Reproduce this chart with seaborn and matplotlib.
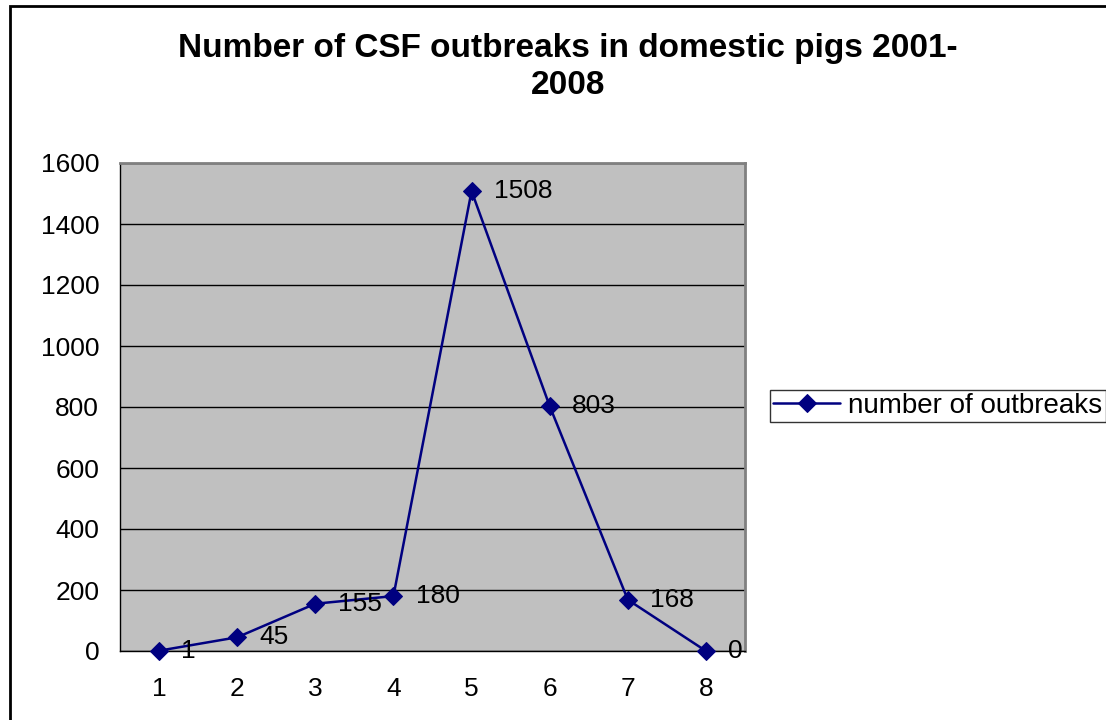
import matplotlib
matplotlib.use("Agg")
import matplotlib.pyplot as plt
import matplotlib.patches as mpatches
import seaborn as sns
import pandas as pd
import numpy as np

categories = [1, 2, 3, 4, 5, 6, 7, 8]
outbreaks = [1, 45, 155, 180, 1508, 803, 168, 0]
y_ticks = [0, 200, 400, 600, 800, 1000, 1200, 1400, 1600]
title_lines = ["Number of CSF outbreaks in domestic pigs 2001-", "2008"]
series_name = "number of outbreaks"

sns.set_theme(style="white")
plt.rcParams['font.family'] = ['Liberation Sans', 'DejaVu Sans']
plt.rcParams['text.color'] = 'black'
plt.rcParams['xtick.color'] = 'black'
plt.rcParams['ytick.color'] = 'black'
plt.rcParams['axes.labelcolor'] = 'black'

FS = 19

df = pd.DataFrame({"category": categories, "value": outbreaks})

fig = plt.figure(figsize=(11.06, 7.2), dpi=100)
ax = fig.add_axes([120/1106, 1-651/720, (745-120)/1106, (651-163)/720])
ax.set_facecolor("#C0C0C0")

line_color = "#000080"
sns.lineplot(data=df, x="category", y="value", ax=ax, color=line_color,
             marker="D", markersize=9, markeredgecolor=line_color,
             linewidth=1.8, label=series_name, zorder=5, clip_on=False)

ax.set_xlim(0.5, 8.5)
ax.set_ylim(0, 1600)
ax.set_yticks(y_ticks)
ax.set_yticklabels([str(t) for t in y_ticks], fontsize=FS)
ax.yaxis.grid(True, color="black", linewidth=1)
ax.set_axisbelow(True)

ax.set_xticks(categories)
ax.set_xticklabels([str(c) for c in categories], fontsize=FS)
ax.set_xticks(np.arange(0.5, 9.0, 1.0), minor=True)
ax.tick_params(axis="x", which="major", length=0, pad=19, labelcolor="black")
ax.tick_params(axis="x", which="minor", length=7, width=1, color="black", direction="out")
ax.tick_params(axis="y", which="major", length=7, width=1, color="black", direction="out",
               pad=8, labelcolor="black")
ax.set_xlabel("")
ax.set_ylabel("")

for s in ["left", "bottom"]:
    ax.spines[s].set_color("black")
    ax.spines[s].set_linewidth(1)
for s in ["top", "right"]:
    ax.spines[s].set_color("#808080")
    ax.spines[s].set_linewidth(2)

for c, v in zip(categories, outbreaks):
    ax.annotate(str(v), (c, v), xytext=(16, 0), textcoords="offset points",
                ha="left", va="center", fontsize=FS, color="black", zorder=6)

fig.text(568/1106, 1 - 49/720, title_lines[0],
         ha="center", va="center", fontsize=24, fontweight="bold", color="black")
fig.text(568/1106, 1 - 86/720, title_lines[1],
         ha="center", va="center", fontsize=24, fontweight="bold", color="black")

leg = ax.legend(loc="center left", bbox_to_anchor=(770/1106, 1 - 406/720),
                bbox_transform=fig.transFigure, fontsize=20, frameon=True,
                fancybox=False, borderpad=0.12, handlelength=2.4, handletextpad=0.3,
                borderaxespad=0, labelcolor="black")
leg.get_frame().set_edgecolor("black")
leg.get_frame().set_linewidth(1)

border = mpatches.Rectangle((10/1106, -0.1), 1.2, 1 - 6/720 + 0.1, transform=fig.transFigure,
                            fill=False, edgecolor="black", linewidth=2, zorder=10)
fig.patches.append(border)

fig.savefig("out.png", dpi=100)
